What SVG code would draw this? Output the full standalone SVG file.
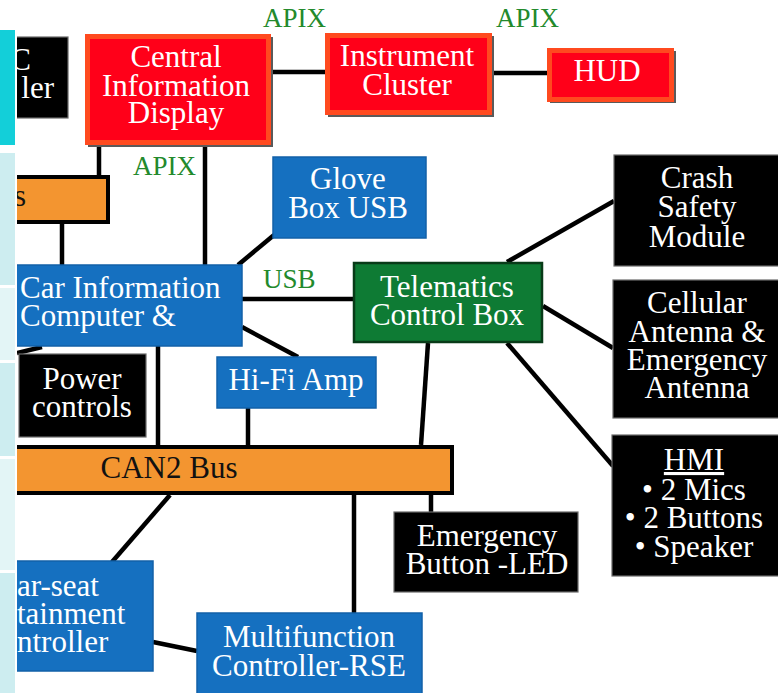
<svg xmlns="http://www.w3.org/2000/svg" width="778" height="693" viewBox="0 0 778 693" font-family="Liberation Serif, DejaVu Serif, serif">
  <style>
    text { font-family: Liberation Serif, DejaVu Serif, serif; }
    .lbl { font-size: 31px; fill: #ffffff; text-anchor: middle; }
    .dark { fill: #111111; }
    .left { text-anchor: start; }
    .end { text-anchor: end; }
    .bus { font-size: 27px; fill: #238a2c; }
    .wire { stroke: #000000; stroke-width: 4.5; fill: none; stroke-linecap: butt; }
    .red { fill: #ff0019; stroke: #ff4a1f; stroke-width: 5; }
    .shadow { fill: #5a5a5a; }
    .blue { fill: #1570c0; stroke: #1260a8; stroke-width: 1.5; }
    .green { fill: #0e7b34; stroke: #083b18; stroke-width: 2.5; }
    .black { fill: #000000; stroke: #6a6a6a; stroke-width: 1.2; }
    .orange { fill: #f39530; stroke: #000000; stroke-width: 4; }
  </style>
  <defs>
    <clipPath id="stage">
      <rect x="17" y="0" width="761" height="693"/>
    </clipPath>
  </defs>

  <rect width="778" height="693" fill="#ffffff"/>

  <!-- side panel strip -->
  <g id="side-strip">
    <rect x="0" y="30" width="15" height="115" fill="#13cfd9"/>
    <rect x="0" y="153" width="15" height="132" fill="#cdedf0"/>
    <rect x="0" y="288" width="15" height="72" fill="#e3f5f6"/>
    <rect x="0" y="363" width="15" height="93" fill="#cdedf0"/>
    <rect x="0" y="459" width="15" height="111" fill="#e3f5f6"/>
    <rect x="0" y="573" width="15" height="120" fill="#cdedf0"/>
  </g>

  <!-- connectors -->
  <g id="connectors" clip-path="url(#stage)">
    <line class="wire" x1="271" y1="72" x2="325" y2="72"/>
    <line class="wire" x1="492" y1="73" x2="547" y2="73"/>
    <line class="wire" x1="99" y1="145" x2="99" y2="175"/>
    <line class="wire" x1="205" y1="145" x2="205" y2="265"/>
    <line class="wire" x1="62" y1="223" x2="62" y2="265"/>
    <line class="wire" x1="238" y1="265" x2="274" y2="235"/>
    <line class="wire" x1="242" y1="299" x2="353" y2="299"/>
    <line class="wire" x1="242" y1="327" x2="298" y2="357"/>
    <line class="wire" x1="17" y1="353" x2="42" y2="347"/>
    <line class="wire" x1="158" y1="346" x2="158" y2="445"/>
    <line class="wire" x1="248" y1="408" x2="248" y2="445"/>
    <line class="wire" x1="428" y1="343" x2="421" y2="445"/>
    <line class="wire" x1="507" y1="262" x2="614" y2="201"/>
    <line class="wire" x1="543" y1="306" x2="613" y2="348"/>
    <line class="wire" x1="507" y1="343" x2="613" y2="466"/>
    <line class="wire" x1="170" y1="495" x2="112" y2="562"/>
    <line class="wire" x1="354" y1="495" x2="354" y2="613"/>
    <line class="wire" x1="431" y1="495" x2="431" y2="512"/>
    <line class="wire" x1="153" y1="642" x2="197" y2="651"/>
  </g>

  <!-- link labels -->
  <g id="link-labels">
    <text class="bus" x="263" y="27">APIX</text>
    <text class="bus" x="496" y="27">APIX</text>
    <text class="bus" x="133" y="175">APIX</text>
    <text class="bus" x="263" y="288">USB</text>
  </g>

  <!-- nodes -->
  <g id="climate-controller" clip-path="url(#stage)">
    <rect class="black" x="10" y="37" width="58" height="81"/>
    <text class="lbl end" x="31" y="70">C</text>
    <text class="lbl end" x="54" y="98">ler</text>
  </g>

  <g id="central-information-display">
    <rect class="shadow" x="88" y="37" width="185" height="110"/>
    <rect class="red" x="87.5" y="36.5" width="181" height="106"/>
    <text class="lbl" x="176" y="67">Central</text>
    <text class="lbl" x="176" y="96">Information</text>
    <text class="lbl" x="176" y="123">Display</text>
  </g>

  <g id="instrument-cluster">
    <rect class="shadow" x="328" y="36" width="166" height="81"/>
    <rect class="red" x="327.5" y="35.5" width="162" height="77"/>
    <text class="lbl" x="407" y="66">Instrument</text>
    <text class="lbl" x="407" y="95">Cluster</text>
  </g>

  <g id="hud">
    <rect class="shadow" x="550" y="51" width="126" height="52"/>
    <rect class="red" x="549.5" y="50.5" width="122" height="49"/>
    <text class="lbl" x="607" y="81">HUD</text>
  </g>

  <g id="bus-box" clip-path="url(#stage)">
    <rect class="orange" x="8" y="177" width="100" height="45"/>
    <text class="lbl dark end" x="26" y="206">s</text>
  </g>

  <g id="glove-box-usb">
    <rect class="blue" x="273" y="157" width="153" height="81"/>
    <text class="lbl" x="348" y="189">Glove</text>
    <text class="lbl" x="348" y="218">Box USB</text>
  </g>

  <g id="car-information-computer" clip-path="url(#stage)">
    <rect class="blue" x="8" y="265" width="234" height="81"/>
    <text class="lbl left" x="20" y="298">Car Information</text>
    <text class="lbl left" x="20" y="326">Computer &amp;</text>
  </g>

  <g id="telematics-control-box">
    <rect class="green" x="354" y="263" width="188" height="79"/>
    <text class="lbl" x="447" y="297">Telematics</text>
    <text class="lbl" x="447" y="325">Control Box</text>
  </g>

  <g id="hifi-amp">
    <rect class="blue" x="217" y="357" width="159" height="51"/>
    <text class="lbl" x="296" y="390">Hi-Fi Amp</text>
  </g>

  <g id="power-controls" clip-path="url(#stage)">
    <rect class="black" x="19" y="354" width="127" height="83"/>
    <text class="lbl" x="82" y="389">Power</text>
    <text class="lbl" x="82" y="417">controls</text>
  </g>

  <g id="can2-bus" clip-path="url(#stage)">
    <rect class="orange" x="8" y="447" width="444" height="46"/>
    <text class="lbl dark" x="169" y="478">CAN2 Bus</text>
  </g>

  <g id="crash-safety-module">
    <rect class="black" x="614" y="155" width="170" height="111"/>
    <text class="lbl" x="697" y="188">Crash</text>
    <text class="lbl" x="697" y="217">Safety</text>
    <text class="lbl" x="697" y="247">Module</text>
  </g>

  <g id="cellular-antenna">
    <rect class="black" x="613" y="280" width="170" height="138"/>
    <text class="lbl" x="697" y="313">Cellular</text>
    <text class="lbl" x="697" y="342">Antenna &amp;</text>
    <text class="lbl" x="697" y="370">Emergency</text>
    <text class="lbl" x="697" y="398">Antenna</text>
  </g>

  <g id="hmi">
    <rect class="black" x="612" y="435" width="172" height="141"/>
    <text class="lbl" x="694" y="470" text-decoration="underline">HMI</text>
    <text class="lbl" x="694" y="500">• 2 Mics</text>
    <text class="lbl" x="694" y="528">• 2 Buttons</text>
    <text class="lbl" x="694" y="557">• Speaker</text>
  </g>

  <g id="emergency-button-led">
    <rect class="black" x="394" y="512" width="184" height="80"/>
    <text class="lbl" x="487" y="546">Emergency</text>
    <text class="lbl" x="487" y="574">Button -LED</text>
  </g>

  <g id="rear-seat-controller" clip-path="url(#stage)">
    <rect class="blue" x="8" y="561" width="145" height="110"/>
    <text class="lbl left" x="17" y="596">ar-seat</text>
    <text class="lbl left" x="17" y="624">tainment</text>
    <text class="lbl left" x="17" y="652">ntroller</text>
  </g>

  <g id="multifunction-controller-rse">
    <rect class="blue" x="197" y="613" width="225" height="82"/>
    <text class="lbl" x="309" y="647">Multifunction</text>
    <text class="lbl" x="309" y="676">Controller-RSE</text>
  </g>
</svg>
